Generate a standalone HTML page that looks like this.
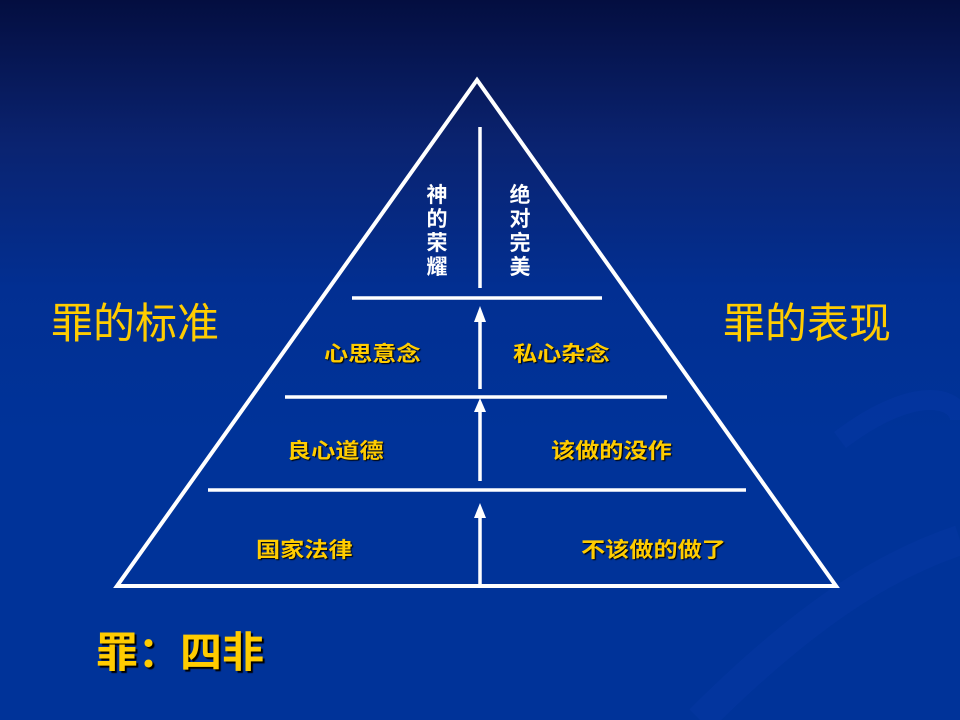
<!DOCTYPE html>
<html><head><meta charset="utf-8"><style>
html,body{margin:0;padding:0}
body{width:960px;height:720px;overflow:hidden;position:relative;
background:linear-gradient(180deg,#040e40 0%,#0a2370 20%,#022f92 40%,#003399 60%,#003399 100%);
font-family:"Liberation Sans","Noto Sans CJK SC",sans-serif}
.t{position:absolute;white-space:nowrap;color:#ffcc00;transform-origin:0 0}
.s{font-size:21px;font-weight:bold;text-shadow:1px 1px 1px #000;transform:scaleX(1.15)}
.v{position:absolute;color:#fff;font-size:21px;font-weight:bold;line-height:24px;width:24px;text-align:center}
</style></head><body>
<svg width="960" height="720" style="position:absolute;left:0;top:0">
<path d="M700 720 C820 600 900 560 960 540" stroke="#0a3aa8" stroke-width="30" fill="none" opacity="0.35"/>
<path d="M840 440 C920 380 960 400 960 420" stroke="#0a3aa8" stroke-width="20" fill="none" opacity="0.35"/>
<polygon points="477,80 117,586 836,586" fill="none" stroke="#fff" stroke-width="4"/>
<g stroke="#fff" stroke-width="3.5">
<line x1="352" y1="298" x2="602" y2="298"/>
<line x1="285" y1="397" x2="667" y2="397"/>
<line x1="208" y1="490" x2="746" y2="490"/>
<line x1="480" y1="127" x2="480" y2="288"/>
<line x1="480" y1="318" x2="480" y2="389"/>
<line x1="480" y1="410" x2="480" y2="481"/>
<line x1="480" y1="515" x2="480" y2="585"/>
</g>
<g fill="#fff">
<polygon points="480,306 474,322 486,322"/>
<polygon points="480,398 474,412 486,412"/>
<polygon points="480,503 474,518 486,518"/>
</g>
</svg>
<div class="v" style="left:425px;top:184px">神的荣耀</div>
<div class="v" style="left:508px;top:184px">绝对完美</div>
<div class="t s" style="left:324px;top:338px">心思意念</div>
<div class="t s" style="left:513px;top:338px">私心杂念</div>
<div class="t s" style="left:287px;top:435px">良心道德</div>
<div class="t s" style="left:551px;top:435px">该做的没作</div>
<div class="t s" style="left:256px;top:534px">国家法律</div>
<div class="t s" style="left:581px;top:534px">不该做的做了</div>
<div class="t" style="left:51px;top:290px;font-size:42px">罪的标准</div>
<div class="t" style="left:723px;top:290px;font-size:42px">罪的表现</div>
<div class="t" style="left:96px;top:619px;font-size:42px;font-weight:bold;text-shadow:2px 2px 1px #000">罪：四非</div>
</body></html>
